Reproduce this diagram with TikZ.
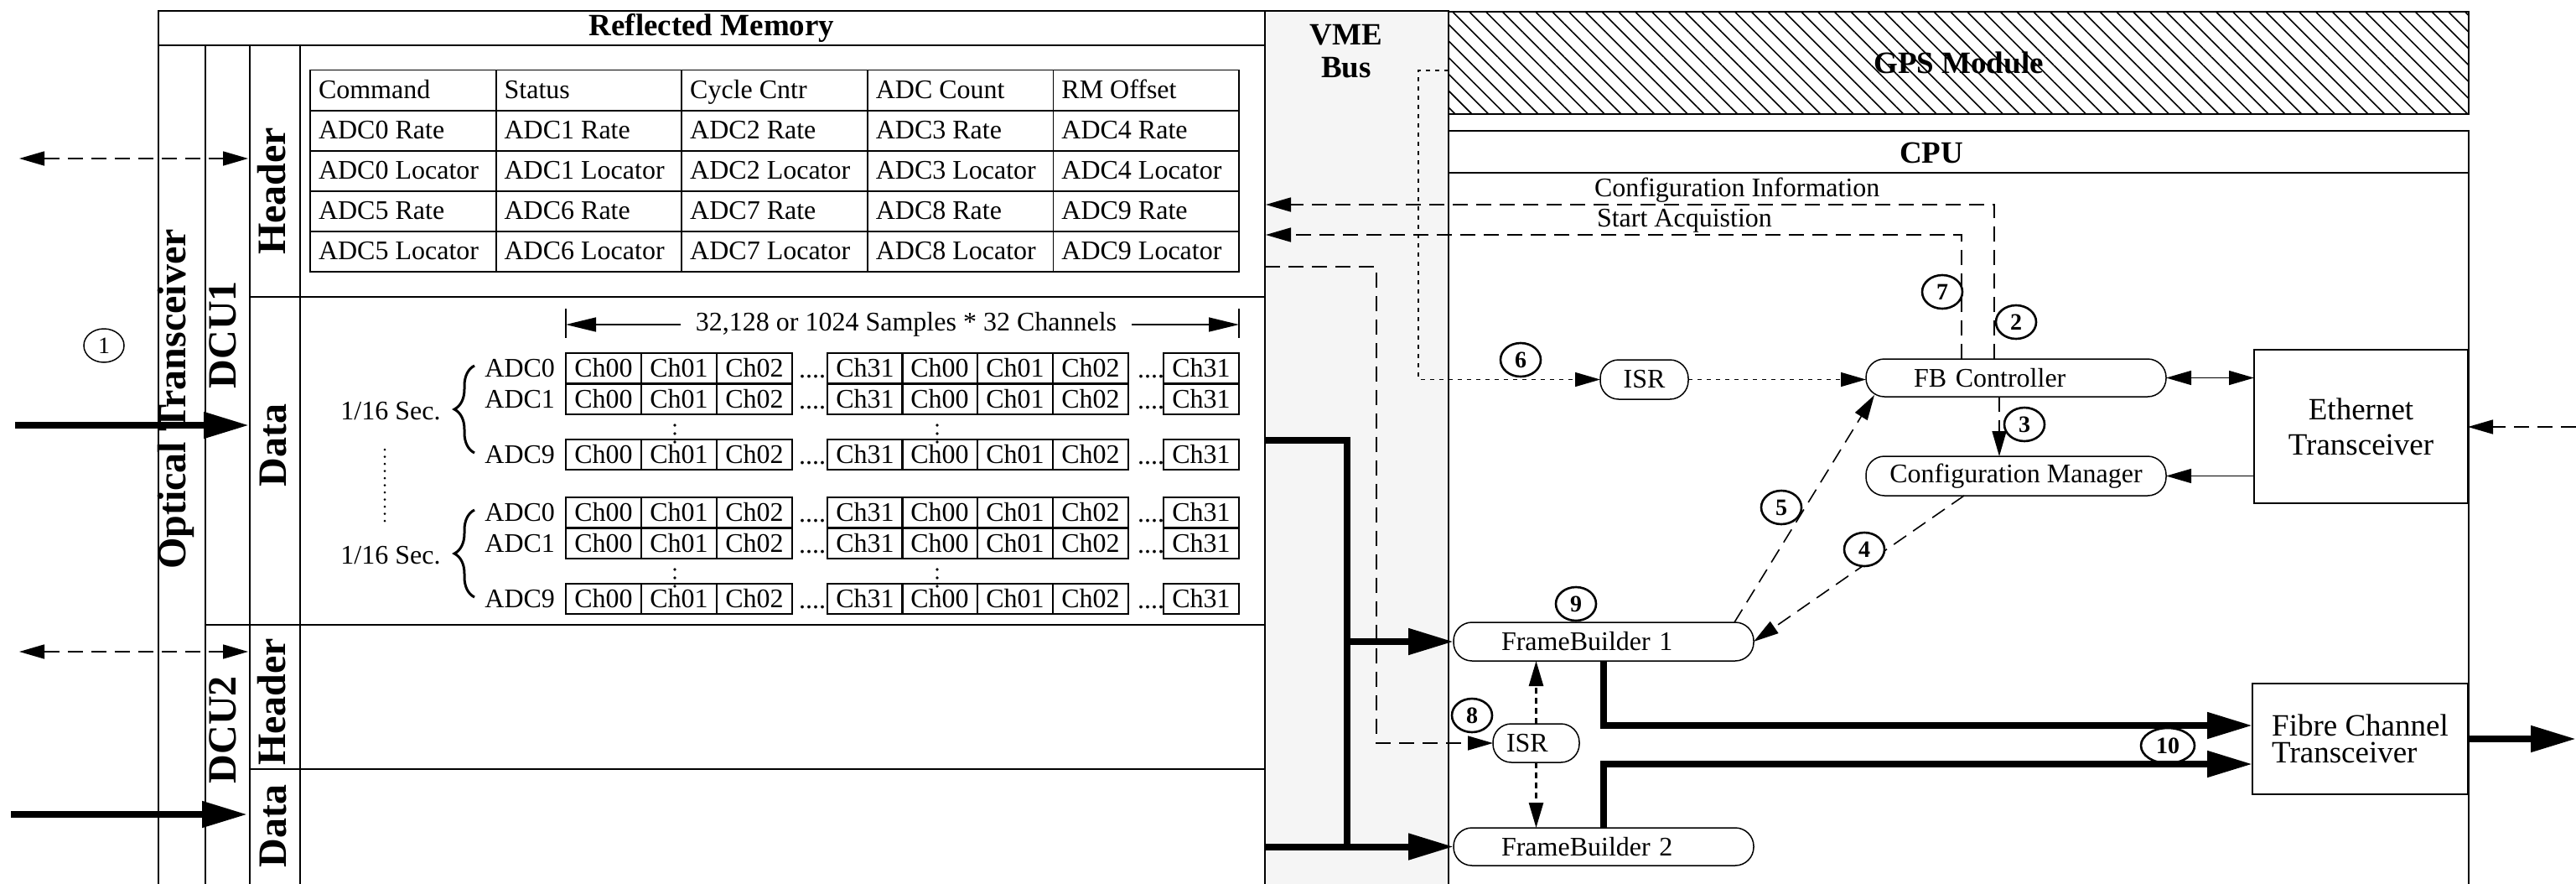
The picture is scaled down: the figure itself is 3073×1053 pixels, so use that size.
\documentclass[tikz,border=0pt]{standalone}
\usepackage{fontspec}
\setmainfont{Liberation Serif}
\usetikzlibrary{arrows.meta,shapes.geometric,patterns.meta,decorations.pathreplacing}
\definecolor{vmegray}{HTML}{F5F5F5}
\begin{document}
\begin{tikzpicture}[x=1pt,y=-1pt,
  every node/.style={inner sep=0pt, outer sep=0pt},
  frm/.style={line width=1.8pt},
  txt/.style={font=\fontsize{32}{36}\selectfont},
  ttl/.style={font=\bfseries\fontsize{37}{39}\selectfont},
  side/.style={font=\bfseries\fontsize{48}{50}\selectfont, rotate=90},
  pill/.style={draw, line width=1.5pt, rounded corners=22pt, minimum height=46pt, font=\fontsize{32}{36}\selectfont},
  bx/.style={draw, line width=2pt},
  num/.style={draw, ellipse, line width=2.6pt, fill=white, minimum width=48pt, minimum height=40pt, font=\bfseries\fontsize{28}{30}\selectfont},
  arr/.style={-{Triangle[length=30pt,width=17pt]}},
  darr/.style={{Triangle[length=30pt,width=17pt]}-{Triangle[length=30pt,width=17pt]}},
  fat/.style={line width=8pt, -{Triangle[length=54pt,width=30pt]}},
  dsh/.style={line width=1.6pt, dash pattern=on 18pt off 10pt},
  dotl/.style={line width=1.6pt, dash pattern=on 5pt off 6pt},
  dd/.style={line width=2.7pt, dash pattern=on 7pt off 5pt},
  cell/.style={draw, line width=1.5pt, minimum width=90pt, minimum height=36pt, font=\fontsize{32}{36}\selectfont},
]
\useasboundingbox (0,0) rectangle (3073,1053);
\clip (0,0) rectangle (3073,1053);

% ---------------- Reflected Memory ----------------
\draw[frm] (189,13) rectangle (1509,1075);
\draw[frm] (189,54) -- (1509,54);
\draw[frm] (245,54) -- (245,1075);
\draw[frm] (298,54) -- (298,1075);
\draw[frm] (358,54) -- (358,1075);
\draw[frm] (298,354) -- (1509,354);
\draw[frm] (245,745) -- (1509,745);
\draw[frm] (298,917) -- (1509,917);
\node[ttl] (rmt) at (849,33) {Reflected Memory};

\node[side] (opt) at (210,476) {Optical Transceiver};
\node[side] (dcu1) at (266,399) {DCU1};
\node[side] (hd1) at (324,228) {Header};
\node[side] (da1) at (326,531) {Data};
\node[side] (dcu2) at (266,870) {DCU2};
\node[side] (hd2) at (324,837) {Header};
\node[side] (da2) at (326,985) {Data};

% header table
\draw[frm] (370,83.5) rectangle (1478,324);
\foreach \x in {591.6,813.2,1034.8,1256.4} \draw[frm] (\x,83.5) -- (\x,324);
\foreach \y in {131.6,179.7,227.8,275.9} \draw[frm] (370,\y) -- (1478,\y);
\foreach \t [count=\i from 0] in {Command,Status,Cycle Cntr,ADC Count,RM Offset,
  ADC0 Rate,ADC1 Rate,ADC2 Rate,ADC3 Rate,ADC4 Rate,
  ADC0 Locator,ADC1 Locator,ADC2 Locator,ADC3 Locator,ADC4 Locator,
  ADC5 Rate,ADC6 Rate,ADC7 Rate,ADC8 Rate,ADC9 Rate,
  ADC5 Locator,ADC6 Locator,ADC7 Locator,ADC8 Locator,ADC9 Locator} {
  \pgfmathtruncatemacro\row{int(\i/5)}
  \pgfmathtruncatemacro\col{mod(\i,5)}
  \node[txt, anchor=base west] (h\i) at ({380+221.6*\col},{117.5+48.1*\row}) {\t};
}

% data section
\draw[line width=1.5pt] (675,368) -- (675,403);
\draw[line width=1.5pt] (1478,368) -- (1478,403);
\draw[line width=1.5pt, {Triangle[length=36pt,width=17pt]}-{Triangle[length=36pt,width=17pt]}] (675,387) -- (1478,387);
\node[txt, fill=white, inner xsep=18pt, inner ysep=2pt] (samp) at (1081,387) {32,128 or 1024 Samples * 32 Channels};

\foreach \y/\lab [count=\k] in {421/ADC0,458/ADC1,524/ADC9,593/ADC0,630/ADC1,696/ADC9} {
  \foreach \x/\t [count=\m] in {675/Ch00,765/Ch01,855/Ch02,987/Ch31,1076/Ch00,1166/Ch01,1256/Ch02,1388/Ch31} {
    \node[cell, anchor=north west] (c\k-\m) at (\x,\y) {\t};
  }
  \node[txt, anchor=base] (dA\k) at (969,\y+29) {....};
  \node[txt, anchor=base] (dB\k) at (1373,\y+29) {....};
  \node[txt, anchor=east] (adc\k) at (662,\y+18) {\lab};
}
\foreach \yy in {507,517,527,679,689,699} {
  \fill (805,\yy) circle (1.8pt);
  \fill (1118,\yy) circle (1.8pt);
}
\node[txt] (sec1) at (466,490) {1/16 Sec.};
\node[txt] (sec2) at (466,662) {1/16 Sec.};
\draw[line width=3pt, decorate, decoration={brace, amplitude=24pt}] (566,540) -- (566,436);
\draw[line width=3pt, decorate, decoration={brace, amplitude=24pt}] (566,712) -- (566,608);
\draw[line width=3pt, line cap=round, dash pattern=on 0pt off 8.5pt] (459,536) -- (459,625);

% left arrows
\coordinate (l1) at (23,189);
\coordinate (l2) at (18,507);
\coordinate (l3) at (23,777);
\coordinate (l4) at (13,971);
\draw[dsh, darr] (l1) -- (296,189);
\draw[fat] (l2) -- (297,507);
\draw[dsh, darr] (l3) -- (296,777);
\draw[fat] (l4) -- (295,971);
\node[num, line width=1.5pt, font=\fontsize{28}{30}\selectfont] (n1) at (124,412) {1};

% ---------------- VME bus ----------------
\node[draw, line width=1.8pt, fill=vmegray, minimum width=219pt, minimum height=1070pt, anchor=north west] (vme) at (1509,13) {};
\node[ttl, align=center] (vmet) at (1606,61) {VME\\Bus};

% ---------------- GPS and CPU ----------------
\node[draw, line width=1.8pt, pattern={Lines[angle=-45,distance=14pt,line width=1.6pt]}, minimum width=1217pt, minimum height=122pt, ttl] (gps) at (2336.5,75) {GPS Module};
\draw[frm] (1728,156) rectangle (2945,1075);
\draw[frm] (1728,206) -- (2945,206);
\node[ttl] (cput) at (2304,182) {CPU};

\node[pill, align=left, text width=244pt, inner xsep=57pt, minimum height=45pt] (fbc) at (2405,450.5) {FB Controller};
\node[pill, minimum width=358pt, minimum height=47pt] (cfg) at (2405,567.5) {Configuration Manager};
\node[pill, minimum width=105pt, minimum height=47pt] (isrA) at (1961.5,452.5) {ISR};
\node[pill, align=left, text width=244pt, inner xsep=57pt] (fb1) at (1913,765) {FrameBuilder 1};
\node[pill, align=left, text width=244pt, inner xsep=57pt, minimum height=45pt] (fb2) at (1913,1009.5) {FrameBuilder 2};
\node[pill, align=left, text width=71pt, inner xsep=16pt] (isrB) at (1832.5,886) {ISR};
\node[bx, minimum width=255pt, minimum height=183pt, align=center, font=\fontsize{37}{42}\selectfont] (eth) at (2816.5,508.5) {Ethernet\\Transceiver};
\node[bx, minimum width=257pt, minimum height=132pt, align=left, font=\fontsize{37}{32}\selectfont] (fc) at (2815.5,881) {Fibre Channel\\Transceiver};

\node[txt, anchor=west] (cinf) at (1902,227) {Configuration Information};
\node[txt, anchor=west] (sacq) at (1905,263) {Start Acquistion};

% coordinates
\coordinate (vmeL) at (1510,0);
\coordinate (c2) at (2379,244);
\coordinate (c7) at (2340,280);
\coordinate (c3) at (2385,0);
\coordinate (d6) at (1692,84);
\coordinate (d8) at (1642,318);
\coordinate (f5a) at (2069,742);
\coordinate (f5b) at (2236,471);
\coordinate (f4) at (2343,0);
\coordinate (v1) at (1509,525);
\coordinate (v2) at (1607,1009.5);
\coordinate (j1) at (1913,865);
\coordinate (j2) at (1911,911);
\coordinate (out) at (3073,881);
\coordinate (ein) at (3073,509);

\node[num, minimum width=64pt, minimum height=42pt] (n10) at (2586,889) {10};

% connectors
\draw[dsh, arr] (fbc.north -| c2) |- (c2 -| vmeL);
\draw[dsh, arr] (fbc.north -| c7) |- (c7 -| vmeL);
\draw[dsh, arr] (fbc.south -| c3) -- (cfg.north -| c3);
\draw[dsh, arr] (f5a) -- (f5b);
\draw[dsh, arr] (cfg.south -| f4) -- (fb1.east);
\draw[dotl, arr] (gps.west |- d6) -- (d6) |- (isrA.west);
\draw[dotl, arr] (isrA.east) -- (isrA.east -| fbc.west);
\draw[dsh, arr] (d8 -| vme.west) -- (d8) |- (isrB.west);
\draw[dd, arr] (isrB.north) -- (fb1.south -| isrB.north);
\draw[dd, arr] (isrB.south) -- (fb2.north -| isrB.south);
\draw[line width=1.5pt, darr] (fbc.east) -- (fbc.east -| eth.west);
\draw[line width=1.5pt, arr] (cfg.east -| eth.west) -- (cfg.east);
\draw[dsh, arr] (ein) -- (eth.east |- ein);

\draw[line width=8pt] (v1) -| (v2);
\draw[fat] (fb1.west -| v2) -- (fb1.west);
\draw[fat] (fb2.west -| vme.west) -- (fb2.west);
\draw[fat] (fb1.south) |- (fc.west |- j1);
\draw[fat] (fb2.north) |- (fc.west |- j2);
\draw[fat] (fc.east) -- (out);

\node[num] (n2) at (2405,384) {2};
\node[num] (n3) at (2415,506) {3};
\node[num] (n4) at (2224,655) {4};
\node[num] (n5) at (2125,605) {5};
\node[num] (n6) at (1814,429) {6};
\node[num] (n7) at (2317,348) {7};
\node[num] (n8) at (1756,853) {8};
\node[num] (n9) at (1880,720) {9};
\end{tikzpicture}
\end{document}
